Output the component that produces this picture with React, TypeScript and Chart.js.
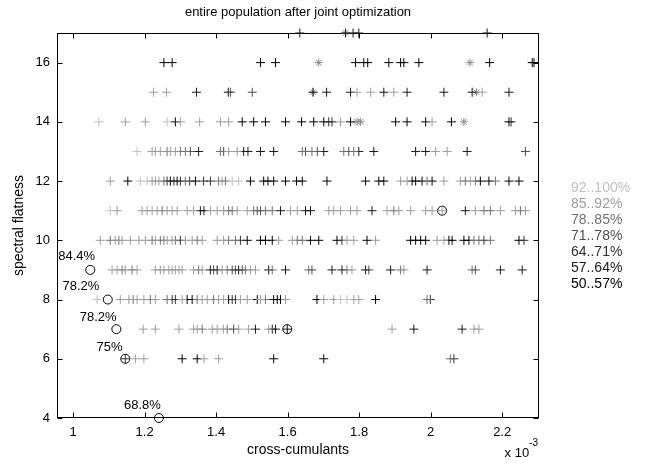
import React, { useEffect, useRef } from "react";
import { Chart, registerables } from "chart.js";

Chart.register(...registerables);

const TITLE = "entire population after joint optimization";
const X_LABEL = "cross-cumulants";
const Y_LABEL = "spectral flatness";
const X_EXP_BASE = "x 10";
const X_EXP_POWER = "-3";
const X_TICKS = [1, 1.2, 1.4, 1.6, 1.8, 2, 2.2];
const Y_TICKS = [4, 6, 8, 10, 12, 14, 16];
const X_MIN = 0.955;
const X_MAX = 2.303;
const Y_MIN = 4;
const Y_MAX = 17;

const LEVEL_LABELS = ["92..100%", "85..92%", "78..85%", "71..78%", "64..71%", "57..64%", "50..57%"];
const LEVEL_COLORS = ["#c0c0c0", "#9c9c9c", "#707070", "#4c4c4c", "#303030", "#181818", "#000000"];

// x values are in units of 1e-3; rows are [spectral flatness, cross-cumulant values]
const LEVEL_92_100: [number, number[]][] = [
  [14, [1.072, 1.263]],
  [13, [1.179]],
  [12, [1.188, 1.207, 1.445, 1.463]],
  [11, [1.104]],
  [8, [1.067, 1.748, 1.766]],
];
const LEVEL_85_92: [number, number[]][] = [
  [15, [1.225, 1.261, 1.794, 1.832, 1.897, 2.144]],
  [14, [1.146, 1.202, 1.3, 1.354, 1.412, 1.435, 1.748, 2.004]],
  [13, [1.221, 1.23, 1.244, 1.272, 1.286, 1.435, 1.459, 2.014, 2.046]],
  [12, [1.104, 1.221, 1.23, 1.24, 1.417, 1.916, 1.934, 2.037, 2.083, 2.111]],
  [11, [1.123, 1.193, 1.207, 1.221, 1.235, 1.263, 1.277, 1.291, 1.319, 1.337, 1.384, 1.403, 1.421, 1.459, 1.487, 1.608, 1.627, 1.715, 1.729, 1.748, 1.776, 1.794, 1.878, 1.911, 1.944, 1.986, 2.004, 2.032, 2.125, 2.195, 2.237, 2.265]],
  [10, [1.076, 1.118, 1.137, 1.16, 1.184, 1.202, 1.23, 1.263, 1.277, 1.314, 1.333, 1.361, 1.403, 1.421, 1.575, 1.613, 1.766, 1.785, 1.846, 2.018, 2.037]],
  [9, [1.109, 1.123, 1.146, 1.179, 1.23, 1.244, 1.254, 1.268, 1.277, 1.286, 1.296, 1.305, 1.337, 1.361, 1.417, 1.496, 1.51, 1.78, 1.925]],
  [8, [1.132, 1.156, 1.179, 1.198, 1.23, 1.305, 1.361, 1.375, 1.407, 1.421, 1.468, 1.487, 1.524, 1.594, 1.701, 1.729, 1.785, 1.799]],
  [7, [1.196, 1.23, 1.296, 1.337, 1.347, 1.389, 1.403, 1.42, 1.463, 1.491, 1.547, 1.892, 2.121, 2.135]],
  [6, [1.174, 1.198, 1.366, 1.407]],
];
const LEVEL_78_85: [number, number[]][] = [
  [13, [1.263, 1.3, 1.314, 1.412, 1.641, 1.668, 1.757, 1.785]],
  [12, [1.254, 1.314, 1.407, 1.426, 1.99, 2.097, 2.125, 2.181]],
  [11, [1.249, 1.435, 1.445, 1.505, 1.538, 1.557, 1.897, 2.149, 2.167, 2.251]],
  [10, [1.104, 1.128, 1.221, 1.244, 1.254, 1.286, 1.347, 1.435, 1.454, 1.627, 1.641, 2.121, 2.135, 2.167]],
  [9, [1.137, 1.165, 1.351, 1.431, 1.482, 1.557, 1.659, 1.766, 1.916, 2.116]],
  [8, [1.168, 1.216, 1.263, 1.347, 1.393, 1.538, 1.99]],
  [7, [1.361, 1.431]],
  [6, [2.055]],
];
const LEVEL_71_78: [number, number[]][] = [
  [15, [1.44, 1.501]],
  [13, [1.328, 1.421, 1.65, 1.683, 1.771, 2.265]],
  [11, [1.515, 1.524]],
  [9, [1.393, 1.445, 1.454, 1.473, 1.668, 1.827, 2.125]],
  [7, [1.449]],
];
const LEVEL_64_71: [number, number[]][] = [
  [14, [1.715, 1.724, 2.225]],
  [12, [1.263, 1.282, 1.3, 1.326, 1.365, 1.384]],
  [10, [1.3, 1.468, 1.752, 2.149, 2.261]],
  [8, [1.277, 1.286, 1.445, 1.454, 1.999]],
  [6, [1.146, 2.065]],
];
const LEVEL_57_64: [number, number[]][] = [
  [17, [1.634, 1.762, 1.783, 1.799, 2.158]],
  [15, [1.345, 1.434, 1.671, 1.709, 1.776, 1.869, 1.934, 2.037, 2.116, 2.219]],
  [13, [1.351, 1.477, 1.489, 1.524, 1.561, 1.701, 1.799, 1.841, 1.958, 1.986, 2.102]],
  [11, [1.356, 1.366, 1.58, 1.65, 1.664, 1.836, 2.097]],
  [9, [1.384, 1.403, 1.463, 1.547, 1.594, 1.724, 1.752, 1.818, 1.888, 1.99, 2.195, 2.256]],
  [7, [1.51, 1.557, 1.566, 1.599, 1.953, 2.088]],
];
const LEVEL_50_57: [number, number[]][] = [
  [16, [1.254, 1.277, 1.524, 1.566, 1.79, 1.813, 1.824, 1.883, 1.916, 1.925, 1.967, 2.165, 2.284, 2.289]],
  [14, [1.286, 1.473, 1.505, 1.538, 1.594, 1.639, 1.673, 1.701, 1.776, 1.902, 1.934, 1.986, 2.058, 2.219]],
  [12, [1.153, 1.272, 1.291, 1.342, 1.496, 1.533, 1.545, 1.561, 1.594, 1.625, 1.641, 1.71, 1.818, 1.855, 1.869, 1.948, 1.958, 1.976, 2.004, 2.139, 2.163, 2.219, 2.247]],
  [10, [1.487, 1.524, 1.538, 1.557, 1.664, 1.687, 1.738, 1.822, 1.944, 1.958, 1.972, 1.986, 2.051, 2.06, 2.093, 2.107, 2.247]],
  [8, [1.319, 1.333, 1.435, 1.515, 1.561, 1.571, 1.58, 1.682, 1.846]],
  [6, [1.305, 1.347, 1.561, 1.701]],
];
const LEVELS = [LEVEL_92_100, LEVEL_85_92, LEVEL_78_85, LEVEL_71_78, LEVEL_64_71, LEVEL_57_64, LEVEL_50_57];

// asterisk markers
const STAR_X = [1.762, 1.687, 2.11, 1.671, 2.128, 1.794, 1.804, 2.093];
const STAR_Y = [17, 16, 16, 15, 15, 14, 14, 14];

// circled best individuals and their labels
const CIRCLE_X = [1.048, 1.097, 1.121, 1.146, 1.24, 1.599, 2.032];
const CIRCLE_Y = [9, 8, 7, 6, 4, 7, 11];
const LABEL_TEXT = ["84.4%", "78.2%", "78.2%", "75%", "68.8%"];
const LABEL_X = [1.01, 1.022, 1.07, 1.102, 1.194];
const LABEL_Y = [9.47, 8.43, 7.41, 6.4, 4.44];

const FONT = '"Liberation Sans", Arial, sans-serif';

const rowsToPoints = (rows: [number, number[]][]) =>
  rows.flatMap(([y, xs]) => xs.map((x) => ({ x, y })));

const decorPlugin = {
  id: "decor",
  beforeDatasetsDraw(chart: any) {
    const { ctx, chartArea: ca, scales } = chart;
    const xs = scales.x;
    const ys = scales.y;
    ctx.save();
    ctx.strokeStyle = "#000";
    ctx.lineWidth = 1;
    const L = Math.round(ca.left) + 0.5;
    const R = Math.round(ca.right) - 0.5;
    const T = Math.round(ca.top) + 0.5;
    const B = Math.round(ca.bottom) - 0.5;
    ctx.strokeRect(L, T, R - L, B - T);
    ctx.beginPath();
    const tl = 5;
    X_TICKS.forEach((v) => {
      const p = Math.round(xs.getPixelForValue(v)) + 0.5;
      ctx.moveTo(p, B);
      ctx.lineTo(p, B - tl);
      ctx.moveTo(p, T);
      ctx.lineTo(p, T + tl);
    });
    Y_TICKS.forEach((v) => {
      const p = Math.round(ys.getPixelForValue(v)) + 0.5;
      ctx.moveTo(L, p);
      ctx.lineTo(L + tl, p);
      ctx.moveTo(R, p);
      ctx.lineTo(R - tl, p);
    });
    ctx.stroke();
    ctx.restore();
  },
  afterDraw(chart: any) {
    const { ctx, chartArea: ca, scales } = chart;
    const xs = scales.x;
    const ys = scales.y;
    ctx.save();
    ctx.fillStyle = "#000";
    // title
    ctx.font = `13px ${FONT}`;
    ctx.textAlign = "center";
    ctx.textBaseline = "middle";
    ctx.fillText(TITLE, (ca.left + ca.right) / 2, 12);
    // exponent label
    ctx.textAlign = "right";
    ctx.font = `10px ${FONT}`;
    const pw = ctx.measureText(X_EXP_POWER).width;
    ctx.fillText(X_EXP_POWER, ca.right - 1, 443);
    ctx.font = `13px ${FONT}`;
    ctx.fillText(X_EXP_BASE, ca.right - 1 - pw, 453);
    // circle labels
    ctx.textAlign = "center";
    ctx.font = `13px ${FONT}`;
    LABEL_TEXT.forEach((t, i) => {
      ctx.fillText(t, xs.getPixelForValue(LABEL_X[i]), ys.getPixelForValue(LABEL_Y[i]));
    });
    // legend
    ctx.textAlign = "left";
    ctx.font = `14px ${FONT}`;
    LEVEL_LABELS.forEach((t, i) => {
      ctx.fillStyle = LEVEL_COLORS[i];
      ctx.fillText(t, ca.right + 32, 188 + 16 * i);
    });
    ctx.restore();
  },
};

export default function App() {
  const ref = useRef<HTMLCanvasElement>(null);

  useEffect(() => {
    const canvas = ref.current;
    if (!canvas) return;

    const levelSets = LEVELS.map((rows, i) => ({
      label: LEVEL_LABELS[i],
      data: rowsToPoints(rows),
      pointStyle: "cross",
      pointRadius: 4.5,
      pointBorderWidth: 1,
      pointBorderColor: LEVEL_COLORS[i],
      pointBackgroundColor: LEVEL_COLORS[i],
      borderColor: LEVEL_COLORS[i],
      backgroundColor: LEVEL_COLORS[i],
      clip: false,
    }));

    const starSet = {
      label: "stars",
      data: STAR_X.map((x, i) => ({ x, y: STAR_Y[i] })),
      pointStyle: "star",
      pointRadius: 4,
      pointBorderWidth: 1,
      pointBorderColor: "#8a8a8a",
      pointBackgroundColor: "#8a8a8a",
      borderColor: "#8a8a8a",
      clip: false,
    };

    const circleSet = {
      label: "best",
      data: CIRCLE_X.map((x, i) => ({ x, y: CIRCLE_Y[i] })),
      pointStyle: "circle",
      pointRadius: 4.5,
      pointBorderWidth: 1,
      pointBorderColor: "#000",
      pointBackgroundColor: "rgba(0,0,0,0)",
      borderColor: "#000",
      backgroundColor: "rgba(0,0,0,0)",
      clip: false,
    };

    const tickFont = { family: FONT, size: 13 };
    const titleFont = { family: FONT, size: 14 };

    const chart = new Chart(canvas, {
      type: "scatter",
      data: { datasets: [...levelSets, starSet, circleSet] as any },
      options: {
        responsive: false,
        animation: false,
        events: [],
        layout: { padding: { left: 0, top: 33, right: 106, bottom: 0 } },
        plugins: { legend: { display: false }, tooltip: { enabled: false }, title: { display: false } },
        scales: {
          x: {
            type: "linear",
            min: X_MIN,
            max: X_MAX,
            afterBuildTicks: (s: any) => {
              s.ticks = X_TICKS.map((value) => ({ value }));
            },
            afterFit: (s: any) => {
              s.height = 48;
            },
            grid: { display: false, drawTicks: false },
            border: { display: false },
            ticks: {
              font: tickFont,
              color: "#000",
              padding: 7,
              maxRotation: 0,
              autoSkip: false,
              callback: (v: any) => String(v),
            },
            title: { display: true, text: X_LABEL, font: titleFont, color: "#000", padding: { top: 0, bottom: 7 } },
          },
          y: {
            type: "linear",
            min: Y_MIN,
            max: Y_MAX,
            afterBuildTicks: (s: any) => {
              s.ticks = Y_TICKS.map((value) => ({ value }));
            },
            afterFit: (s: any) => {
              s.width = 57;
            },
            grid: { display: false, drawTicks: false },
            border: { display: false },
            ticks: {
              font: tickFont,
              color: "#000",
              padding: 7,
              autoSkip: false,
              callback: (v: any) => String(v),
            },
            title: { display: true, text: Y_LABEL, font: titleFont, color: "#000", padding: { top: 11, bottom: 0 } },
          },
        },
      } as any,
      plugins: [decorPlugin],
    });

    return () => chart.destroy();
  }, []);

  return (
    <div style={{ position: "absolute", left: 0, top: 0, width: 645, height: 466, background: "#fff" }}>
      <canvas ref={ref} width={645} height={466} style={{ display: "block" }} />
    </div>
  );
}
